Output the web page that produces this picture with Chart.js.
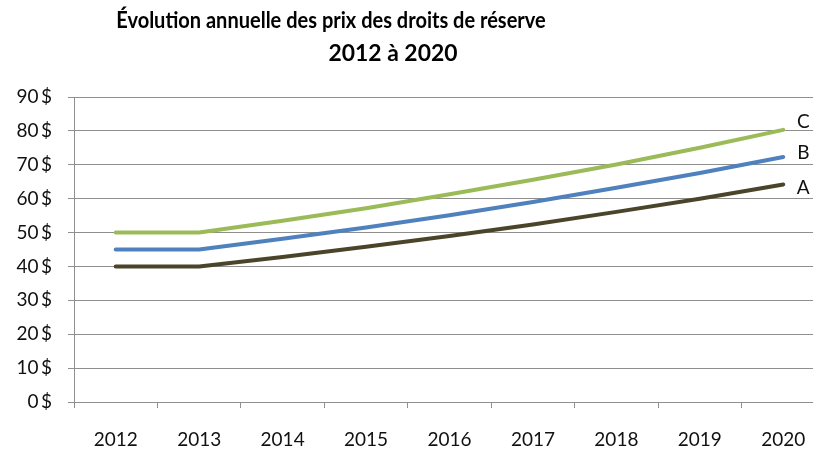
<!DOCTYPE html>
<html lang="fr">
<head>
<meta charset="utf-8">
<title>Évolution annuelle des prix des droits de réserve</title>
<script src="https://cdn.jsdelivr.net/npm/chart.js@4.4.1/dist/chart.umd.min.js"></script>
<style>
    html, body { margin: 0; padding: 0; background: #fff; overflow: hidden; }
    #wrap { position: relative; width: 840px; height: 452px; }
    .titre {
        position: absolute; width: 600px; text-align: center;
        font-family: Lato, 'Open Sans', sans-serif;
        font-weight: bold; font-size: 22px; line-height: 32px; color: #000;
        white-space: nowrap;
    }
    #titre1 { left: 31px; top: 4px; transform: scaleX(0.91); }
    #titre2 { left: 93px; top: 37px; transform: scaleX(1.04); }
</style>
</head>
<body>
<div id="wrap">
    <canvas id="chartPrix" width="840" height="452"></canvas>
    <div class="titre" id="titre1">Évolution annuelle des prix des droits de réserve</div>
    <div class="titre" id="titre2">2012 à 2020</div>
</div>
<script>
// Donnees
const annees = ['2012', '2013', '2014', '2015', '2016', '2017', '2018', '2019', '2020'];
const prixA = [40, 40, 42.8, 45.8, 49.0, 52.4, 56.1, 60.0, 64.2];
const prixB = [45, 45, 48.2, 51.5, 55.1, 59.0, 63.2, 67.6, 72.3];
const prixC = [50, 50, 53.5, 57.2, 61.3, 65.6, 70.1, 75.0, 80.3];
const nomsSeries = ['A', 'B', 'C'];

const CORES = {
    a: '#4a452a',
    b: '#4f81bd',
    c: '#9bbb59',
    grille: '#8f8f8f',
    texte: '#111'
};

const POLICE = "Lato, 'Open Sans', sans-serif";

// Etiquettes A / B / C a droite du dernier point
const etiquettesFin = {
    id: 'etiquettesFin',
    afterDatasetsDraw(chart) {
        const ctx = chart.ctx;
        const decalY = [3, -4, -8];
        ctx.save();
        ctx.font = '19px ' + POLICE;
        ctx.fillStyle = CORES.texte;
        ctx.textAlign = 'center';
        ctx.textBaseline = 'middle';
        chart.data.datasets.forEach((ds, i) => {
            const pts = chart.getDatasetMeta(i).data;
            const p = pts[pts.length - 1];
            ctx.fillText(ds.label, p.x + 20, p.y + decalY[i]);
        });
        ctx.restore();
    }
};

function serie(nom, valeurs, cor) {
    return {
        label: nom,
        data: valeurs,
        borderColor: cor,
        backgroundColor: cor,
        borderWidth: 4,
        pointRadius: 0,
        tension: 0,
        borderCapStyle: 'round',
        borderJoinStyle: 'round'
    };
}

new Chart(document.getElementById('chartPrix').getContext('2d'), {
    type: 'line',
    data: {
        labels: annees,
        datasets: [
            serie(nomsSeries[0], prixA, CORES.a),
            serie(nomsSeries[1], prixB, CORES.b),
            serie(nomsSeries[2], prixC, CORES.c)
        ]
    },
    options: {
        responsive: false,
        animation: false,
        layout: { padding: { top: 97, right: 15, left: 0, bottom: 0 } },
        plugins: {
            legend: { display: false },
            tooltip: { enabled: false },
            title: { display: false }
        },
        scales: {
            x: {
                offset: true,
                afterFit: (s) => { s.height = 50; },
                grid: {
                    offset: true,
                    drawOnChartArea: false,
                    drawTicks: true,
                    tickLength: 6,
                    color: CORES.grille
                },
                border: { color: CORES.grille, width: 1 },
                ticks: {
                    padding: 20,
                    maxRotation: 0,
                    color: CORES.texte,
                    font: { family: POLICE, size: 19 }
                }
            },
            y: {
                min: 0,
                max: 90,
                afterFit: (s) => { s.width = 74; },
                grid: {
                    color: CORES.grille,
                    lineWidth: 1,
                    tickLength: 6
                },
                border: { color: CORES.grille, width: 1 },
                ticks: {
                    stepSize: 10,
                    padding: 16,
                    color: CORES.texte,
                    font: { family: POLICE, size: 19 },
                    callback: (v) => v + '\u2009$'
                }
            }
        }
    },
    plugins: [etiquettesFin]
});
</script>
</body>
</html>
